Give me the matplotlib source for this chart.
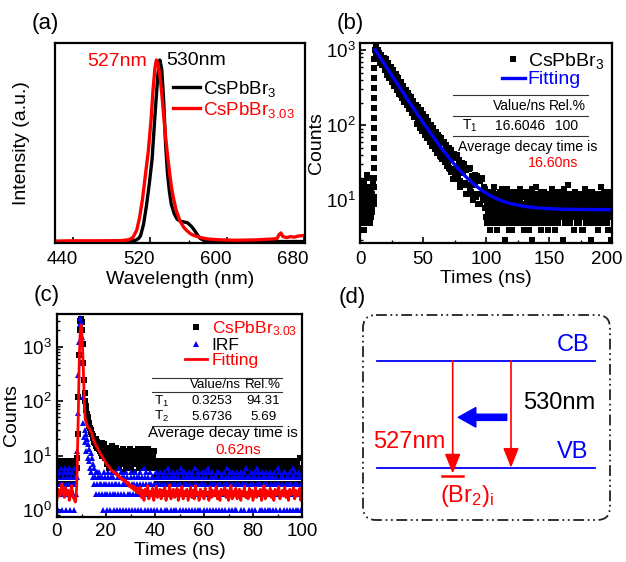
import numpy as np
import matplotlib
matplotlib.use("Agg")
import matplotlib.pyplot as plt
from matplotlib.patches import FancyBboxPatch
from matplotlib.transforms import ScaledTranslation

plt.rcParams['font.family'] = ['Liberation Sans', 'DejaVu Sans']
plt.rcParams['mathtext.fontset'] = 'custom'
plt.rcParams['mathtext.rm'] = 'Liberation Sans'
plt.rcParams['mathtext.it'] = 'Liberation Sans:italic'
plt.rcParams['mathtext.bf'] = 'Liberation Sans:bold'
plt.rcParams['axes.linewidth'] = 1.6
plt.rcParams['xtick.direction'] = 'in'
plt.rcParams['ytick.direction'] = 'in'
plt.rcParams['xtick.major.width'] = 1.2
plt.rcParams['ytick.major.width'] = 1.2
plt.rcParams['xtick.minor.width'] = 1.0
plt.rcParams['ytick.minor.width'] = 1.0
plt.rcParams['xtick.major.size'] = 4
plt.rcParams['ytick.major.size'] = 4
plt.rcParams['xtick.minor.size'] = 2.5
plt.rcParams['ytick.minor.size'] = 2.5

# ---------------- (a) PL spectra ----------------
wl_black = [421, 460, 490, 500, 505, 508, 510, 513, 516, 519, 522, 525, 528, 530, 532, 534, 536,
            538, 540, 542, 545, 548, 551, 555, 559, 563, 566, 569, 572, 576, 580, 600, 681]
pl_black = [0.008, 0.008, 0.009, 0.01, 0.015, 0.025, 0.04, 0.10, 0.20, 0.32, 0.46, 0.70, 0.92, 1.0,
            0.95, 0.78, 0.54, 0.38, 0.28, 0.21, 0.16, 0.13, 0.12, 0.115, 0.11, 0.09, 0.07, 0.045,
            0.025, 0.014, 0.01, 0.008, 0.008]
wl_red = [421, 440, 470, 490, 498, 502, 506, 509, 512, 515, 518, 521, 523, 525, 526.5, 528, 530,
          532, 534, 536, 538, 540, 542, 544, 547, 551, 555, 558, 562, 566, 572, 580, 590, 600, 610,
          620, 630, 640, 648, 652, 654, 656, 658, 662, 666, 670, 674, 678, 681]
pl_red = [0.01, 0.012, 0.012, 0.013, 0.018, 0.03, 0.07, 0.14, 0.24, 0.37, 0.50, 0.68, 0.84, 0.96,
          1.0, 0.98, 0.92, 0.82, 0.70, 0.58, 0.48, 0.39, 0.31, 0.25, 0.18, 0.12, 0.085, 0.068, 0.05,
          0.04, 0.03, 0.022, 0.018, 0.016, 0.015, 0.016, 0.017, 0.02, 0.022, 0.025, 0.045, 0.055,
          0.035, 0.03, 0.035, 0.032, 0.038, 0.04, 0.042]

# ---------------- (b) CsPbBr3 decay ----------------
b_pre_a = [9, 5, 14, 7, 11, 4, 18, 8, 6, 12, 9, 15, 5, 10, 7, 20, 6, 13, 8, 11, 16, 9]   # from 0.5 ns, 0.5 ns step
b_pre_b = [7, 12, 6, 16, 8, 10, 5, 13, 9, 7, 22, 6, 11, 8, 14, 5, 9, 12, 7, 17, 10]      # from 0.75 ns
b_rise = [11, 15, 20, 27, 36, 50, 68, 92, 125, 170, 230, 310, 420, 570, 770]            # at 11 ns
b_decay_a = [1008, 1081, 804, 901, 682, 837, 669, 783, 550, 613,                        # 12..99 ns
             556, 597, 444, 497, 377, 462, 370, 432, 304, 340,
             308, 330, 246, 276, 209, 257, 206, 241, 169, 189,
             172, 185, 138, 155, 117, 145, 115, 136, 95, 107,
             98, 105, 79, 88, 68, 82, 67, 78,
             62, 74, 45, 60, 38, 58, 44, 60, 36, 44,
             38, 49, 24, 40, 19, 39, 24, 40, 20, 28,
             24, 31, 16, 26, 12, 26, 16, 27, 13, 19,
             17, 22, 11, 18, 9, 18, 12, 20, 10, 14]
b_decay_b = [830, 920, 1014, 760, 847, 638, 786, 592, 655, 469,                         # 12.5..99.5 ns
             458, 508, 560, 419, 468, 352, 435, 327, 362, 260,
             253, 281, 310, 232, 260, 196, 241, 182, 202, 144,
             141, 158, 174, 130, 145, 111, 136, 103, 113, 81,
             81, 90, 99, 74, 84, 62, 78, 60,
             48, 58, 70, 44, 60, 36, 58, 36, 48, 30,
             27, 35, 46, 26, 38, 19, 39, 21, 31, 15,
             17, 23, 30, 17, 25, 12, 26, 14, 21, 10,
             12, 16, 21, 12, 18, 9, 19, 10, 15, 8]
b_decay_c = [763, 472, 678, 419, 602, 372, 535, 330, 475, 293,                          # 20.25..79.25 ns
             422, 261, 375, 232, 334, 206, 297, 184, 264, 164,
             235, 145, 209, 130, 187, 104, 177, 93, 158, 83,
             141, 74, 127, 67, 114, 59, 102, 53, 92, 48,
             81, 43, 73, 39, 67, 35, 60, 32, 55, 29,
             49, 26, 45, 24, 41, 22, 37, 20, 34, 18]
b_plateau_a = [8, 5, 11, 7, 13, 6, 9, 4, 10, 7, 12, 6, 8, 15, 5, 9, 7, 11, 4, 8, 10, 6, 13, 7, 9,   # from 100 ns, 0.5 ns step
               5, 12, 8, 6, 10, 3, 9, 7, 14, 6, 8, 11, 5, 9, 7, 12, 4, 10, 8, 6, 13, 7, 9, 5, 11,
               7, 10, 6, 8, 14, 5, 9, 7, 12, 6, 8, 4, 11, 9, 7, 13, 5, 10, 8, 6, 12, 7, 9, 3, 11,
               8, 6, 10, 7, 15, 5, 9, 8, 12, 6, 7, 10, 4, 9, 11, 6, 8, 13, 7, 5, 10, 8, 12, 6, 9,
               7, 11, 5, 8, 14, 6, 9, 7, 10, 4, 12, 8, 6, 9, 11, 5, 7, 13, 8, 6, 10, 9, 3, 12, 7,
               8, 5, 11, 9, 6, 16, 7, 10, 8, 5, 12, 6, 9, 7, 11, 4, 8, 13, 6, 10, 7, 9, 5, 12, 8,
               6, 11, 7, 9, 4, 10, 8, 14, 6, 7, 12, 5, 9, 8, 11, 6, 10, 3, 7, 13, 8, 5, 9, 12, 6,
               10, 7, 8, 4, 11, 9, 6, 15, 7, 10, 5, 8, 12, 6, 9, 7, 11, 5, 13, 8, 6, 10, 9, 3, 7, 12]
b_plateau_b = [6, 9, 7, 12, 5, 10, 8, 6, 11, 7, 9, 13, 6, 8, 5, 10, 7, 12, 9, 6,                   # from 100.25 ns
               8, 11, 5, 9, 7, 14, 6, 10, 8, 5, 12, 7, 9, 6, 11, 8, 4, 10, 7, 9,
               13, 6, 8, 10, 5, 9, 7, 12, 6, 8, 11, 7, 5, 10, 9, 6, 13, 8, 7, 11,
               5, 9, 6, 12, 8, 10, 7, 4, 9, 11, 6, 8, 14, 7, 10, 5, 9, 8, 12, 6,
               10, 7, 9, 5, 11, 8, 6, 13, 7, 9, 10, 5, 8, 12, 6, 9, 7, 11, 4, 8,
               10, 6, 12, 7, 9, 8, 5, 11, 7, 13, 6, 9, 8, 10, 5, 12, 7, 6, 9, 11,
               8, 6, 10, 7, 14, 5, 9, 8, 11, 6, 10, 7, 12, 5, 8, 9, 6, 11, 7, 10,
               13, 6, 8, 9, 5, 12, 7, 10, 8, 6, 11, 9, 4, 8, 12, 7, 10, 6, 9, 5,
               11, 8, 7, 13, 6, 9, 10, 5, 8, 12, 7, 9, 6, 11, 8, 10, 5, 9, 7, 12,
               6, 10, 8, 7, 11, 5, 9, 13, 6, 8, 10, 7, 9, 4, 12, 8, 6, 11, 7, 9]
b_fit_t = [12, 14, 16, 18, 20, 22, 24, 26, 28, 30, 32, 34, 36, 38, 40, 42, 44, 46, 48, 50, 52, 54,
           56, 58, 60, 62, 64, 66, 68, 70, 72, 74, 76, 78, 80, 82, 84, 86, 88, 90, 92, 94, 96, 98,
           100, 104, 108, 112, 116, 120, 130, 140, 150, 160, 175, 200]
b_fit = [1007, 894, 794, 704, 626, 556, 494, 438, 390, 346, 308, 274, 244, 216, 193, 172, 154, 136,
         122, 108, 98, 88, 78, 70, 63, 56.7, 51.1, 46.2, 41.8, 37.9, 34.4, 31.4, 28.7, 26.3, 24.1,
         22.2, 20.6, 19.1, 17.8, 16.6, 15.6, 14.7, 13.8, 13.1, 12.5, 11.4, 10.6, 9.9, 9.4, 9.0,
         8.3, 7.95, 7.75, 7.6, 7.55, 7.5]

# ---------------- (c) CsPbBr3.03 decay ----------------
c_sample_pre = "57463852746538472645837265473856"      # 0..7.75 ns, 0.25 ns step
c_sample_peak = [6, 9, 25, 120, 700, 2000, 3000, 3200, 2800, 2000,   # 8.0..19.75 ns
                 1100, 500, 240, 140, 100, 80, 68, 58, 50, 44,
                 40, 35, 32, 29, 27, 25, 23, 21, 20, 18,
                 17, 20, 15, 18, 14, 17, 13, 16, 12, 15,
                 11, 17, 10, 14, 12, 16, 9, 13]
c_sample_tail = ("a7c8e6b9d7fa8c6b9e7a"                   # from 20 ns, 0.25 ns step (hex counts)
                 "8b6a9c7d5a8b6c9a7b8d6a9c7b5a"
                 "9c7a8d6b9c8a7d9b6c8a9d7b8c6a9b7c"
                 "46273538462537485362" "74635827436538472635" "48372635482736354826"
                 "73458372635485726354" "75826354738263547286" "63547286635472638354"
                 "72648354726583547263" "85347265835472635834" "72635834726558347263"
                 "58347263584372635843" "72635843726558437263" "58437263584372635943")
c_irf_pre = "31425362143526314253621435261432"         # 0..7.75 ns
c_irf_peak = [4, 12, 60, 300, 1200, 2600, 3300, 2800, 1500, 500,     # 8.0..17.75 ns
              120, 40, 22, 30, 18, 25, 12, 20, 9, 16,
              8, 13, 6, 11, 5, 9, 4, 7, 3, 6,
              4, 5, 2, 5, 3, 4, 2, 5, 3, 4]
c_irf_tail = ("32413524312453214352" "41325314236152431423" "51342132451324315243"   # from 18 ns
              "21435142326143521432" "53142431253412435214" "32541324163542132451"
              "34215342136254132541" "23451324514326143251" "43125342153241562314"
              "25314231452315342142" "35214362145321435241" "13524342513421536243"
              "24135241352143625341" "32514231425341215342" "41352143625314232451"
              "52341423153426143521" "34152431425136241352")
c_fit_pre = [1.6, 2.4, 1.8, 2.0, 3.0, 2.2, 1.7, 2.6, 1.9, 2.3, 1.5, 2.1, 2.8, 1.7, 1.6, 1.4]   # 0..7.5, 0.5 step
c_fit_peak = [1.8, 2.5, 6, 20, 80, 350, 1000, 2000, 2500, 2300,      # 7.75..16.0, 0.25 step
              1500, 800, 380, 150, 70, 48, 42, 40, 36, 34,
              33, 32, 31, 30, 28, 27, 25, 22, 20, 19,
              18, 17, 16, 15]
c_fit_tail = [14, 12.5, 11.5, 10.2, 9.5, 8.6, 8.0, 7.2, 6.8, 6.2, 6.0, 5.4, 5.3, 4.9, 5.0, 4.6,   # from 16.5, 0.5 step
              4.3, 4.4, 3.9, 4.0, 3.6, 3.7, 3.3, 3.5, 3.0, 3.2, 2.7, 2.9, 2.5, 2.8, 2.3, 2.6, 2.1, 2.5,
              2.0, 2.6, 1.7, 2.3, 1.5, 2.4, 1.9, 2.8, 1.6, 2.2, 1.8, 2.5, 1.5, 2.1, 2.7, 1.7, 2.0, 2.4, 1.6, 2.3,
              1.9, 2.6, 1.5, 2.2, 1.8, 2.9, 1.6, 2.1, 2.4, 1.7, 2.0, 2.5, 1.5, 2.3, 1.8, 2.7, 1.6, 2.2, 1.9, 2.4,
              1.5, 2.0, 2.6, 1.7, 2.3, 1.6, 2.8, 1.9, 2.1, 1.5, 2.4, 1.8, 2.2, 1.6, 2.5, 1.9, 2.0, 1.5, 2.6, 1.7,
              2.3, 1.8, 2.1, 2.7, 1.6, 2.2, 1.5, 2.4, 1.9, 2.0, 2.6, 1.7, 2.3, 1.5, 2.1, 2.8, 1.6, 2.2, 1.8, 2.5,
              1.6, 2.0, 2.4, 1.5, 2.2, 1.9, 2.7, 1.7, 2.1, 1.6, 2.5, 1.8, 2.3, 1.5, 2.0, 2.6, 1.7, 2.2, 1.9, 2.4,
              1.5, 2.1, 2.8, 1.6, 2.3, 1.8, 2.0, 2.5, 1.7, 2.2, 1.5, 2.4, 1.9, 2.1, 2.7, 1.6, 2.0, 2.3, 1.8, 2.6,
              1.7, 2.2, 1.5, 2.4, 1.9, 2.0, 2.6, 1.6, 2.3, 1.8, 2.1, 2.5, 1.5, 2.2, 1.9, 2.8, 1.6, 2.0, 2.4, 1.7]

W, H = 626, 562
BLUE = '#0000ff'
RED = '#ff0000'

def box(l, t, r, b):
    return [l / W, 1 - b / H, (r - l) / W, (b - t) / H]

fig = plt.figure(figsize=(W / 100, H / 100), dpi=100)

# background axes in pixel units: panel letters and scheme (d)
axd = fig.add_axes([0, 0, 1, 1], zorder=-1)
axd.set_xlim(0, W)
axd.set_ylim(H, 0)
axd.axis('off')
for lab, x, y in [('(a)', 45, 23), ('(b)', 350, 23), ('(c)', 47, 295), ('(d)', 352, 297)]:
    axd.text(x, y, lab, fontsize=16, ha='center', va='center')

# ---------------- (a) ----------------
ax = fig.add_axes(box(55, 43, 305, 243))
ax.plot(wl_black, pl_black, color='black', lw=2.4, label='CsPbBr$_3$')
ax.plot(wl_red, pl_red, color=RED, lw=2.4, label='CsPbBr$_{3.03}$')
ax.set_xlim(421, 681)
ax.set_ylim(0, 1.093)
ax.set_xticks([440, 520, 600, 680])
ax.set_xticks([480, 560, 640], minor=True)
ax.set_yticks([])
ax.tick_params(axis='x', labelsize=13.5, pad=6)
ax.set_xlabel('Wavelength (nm)', fontsize=14, labelpad=2)
ax.set_ylabel('Intensity (a.u.)', fontsize=14, labelpad=18)
ax.text(517, 0.99, '527nm', color=RED, fontsize=14, ha='right', va='center')
ax.text(536.5, 1.0, '530nm', color='black', fontsize=14, ha='left', va='center')
ax.legend(loc='upper left', bbox_to_anchor=(0.47, 0.82), frameon=False, fontsize=13.5,
          handlelength=1.45, handletextpad=0.2, labelspacing=0.05, borderpad=0,
          borderaxespad=0, labelcolor='linecolor')
shift = ScaledTranslation(-0.11, 0, fig.dpi_scale_trans)
for tick in ax.xaxis.get_major_ticks():
    tick.label1.set_transform(tick.label1.get_transform() + shift)

# ---------------- (b) ----------------
ax = fig.add_axes(box(360, 43, 612, 243))
t_b = np.concatenate([0.5 + 0.5 * np.arange(len(b_pre_a)), 0.75 + 0.5 * np.arange(len(b_pre_b)),
                      np.full(len(b_rise), 11.0),
                      12 + np.arange(len(b_decay_a)), 12.5 + np.arange(len(b_decay_b)),
                      20.25 + np.arange(len(b_decay_c)),
                      100 + 0.5 * np.arange(len(b_plateau_a)), 100.25 + 0.5 * np.arange(len(b_plateau_b))])
n_b = np.concatenate([b_pre_a, b_pre_b, b_rise, b_decay_a, b_decay_b, b_decay_c, b_plateau_a, b_plateau_b])
ax.plot(t_b, n_b, 's', color='black', ms=4.1, mew=0, label='CsPbBr$_3$')
ax.plot(b_fit_t, b_fit, color=BLUE, lw=2.4, label='Fitting')
ax.set_yscale('log')
ax.set_xlim(0, 200)
ax.set_ylim(2.7, 1240)
ax.set_xticks(np.arange(0, 201, 50))
ax.set_xticks(np.arange(25, 200, 50), minor=True)
ax.tick_params(axis='x', labelsize=13.5, pad=6)
ax.tick_params(axis='y', labelsize=13.5, pad=3)
ax.set_xlabel('Times (ns)', fontsize=14, labelpad=1)
ax.set_ylabel('Counts', fontsize=14, labelpad=1)
ax.legend(loc='upper right', bbox_to_anchor=(1.0, 1.0), frameon=False, fontsize=14,
          handlelength=1.2, handletextpad=0.15, labelspacing=0.0, borderpad=0.3,
          borderaxespad=0.1, markerscale=1.2, labelcolor=['black', BLUE])
last = ax.xaxis.get_major_ticks()[-1].label1
last.set_transform(last.get_transform() + ScaledTranslation(-0.05, 0, fig.dpi_scale_trans))
for yy in [0.74, 0.635, 0.535]:
    ax.plot([0.369, 0.905], [yy, yy], transform=ax.transAxes, color='#333333', lw=0.8)
ax.text(0.631, 0.685, 'Value/ns', transform=ax.transAxes, fontsize=10, ha='center', va='center')
ax.text(0.823, 0.685, 'Rel.%', transform=ax.transAxes, fontsize=10, ha='center', va='center')
ax.text(0.437, 0.585, 'T$_1$', transform=ax.transAxes, fontsize=10, ha='center', va='center')
ax.text(0.635, 0.585, '16.6046', transform=ax.transAxes, fontsize=10, ha='center', va='center')
ax.text(0.82, 0.585, '100', transform=ax.transAxes, fontsize=10, ha='center', va='center')
ax.text(0.667, 0.48, 'Average decay time is', transform=ax.transAxes, fontsize=10.2,
        ha='center', va='center')
ax.text(0.766, 0.40, '16.60ns', transform=ax.transAxes, fontsize=10.2, color=RED,
        ha='center', va='center')

# ---------------- (c) ----------------
ax = fig.add_axes(box(57, 314, 302, 517))
s_tail = [int(ch, 16) for ch in c_sample_tail]
i_tail = [int(ch) for ch in c_irf_tail]
t_s = np.concatenate([0.25 * np.arange(len(c_sample_pre)), 8.0 + 0.25 * np.arange(len(c_sample_peak)),
                      20.0 + 0.25 * np.arange(len(s_tail))])
n_s = np.concatenate([[int(ch) for ch in c_sample_pre], c_sample_peak, s_tail])
t_i = np.concatenate([0.25 * np.arange(len(c_irf_pre)), 8.0 + 0.25 * np.arange(len(c_irf_peak)),
                      18.0 + 0.25 * np.arange(len(i_tail))])
n_i = np.concatenate([[int(ch) for ch in c_irf_pre], c_irf_peak, i_tail])
t_f = np.concatenate([0.5 * np.arange(len(c_fit_pre)), 7.75 + 0.25 * np.arange(len(c_fit_peak)),
                      16.5 + 0.5 * np.arange(len(c_fit_tail))])
n_f = np.concatenate([c_fit_pre, c_fit_peak, c_fit_tail])
ax.plot(t_s, n_s, 's', color='black', ms=4.8, mew=0, label='CsPbBr$_{3.03}$')
ax.plot(t_i, n_i, '^', color=BLUE, ms=4.0, mew=0, label='IRF')
ax.plot(t_f, n_f, '-', color=RED, lw=2.0, label='Fitting')
ax.set_yscale('log')
ax.set_xlim(0, 100)
ax.set_ylim(0.744, 3950)
ax.set_xticks(np.arange(0, 101, 20))
ax.set_xticks(np.arange(10, 100, 20), minor=True)
ax.tick_params(axis='x', labelsize=13.5, pad=4)
ax.tick_params(axis='y', labelsize=13.5, pad=4)
ax.set_xlabel('Times (ns)', fontsize=14, labelpad=2)
ax.set_ylabel('Counts', fontsize=14, labelpad=1)
ax.legend(loc='upper right', bbox_to_anchor=(1.0, 1.0), frameon=False, fontsize=12.5,
          handlelength=1.3, handletextpad=0.25, labelspacing=0.0, borderpad=0.2,
          borderaxespad=0.1, numpoints=1, labelcolor=[RED, 'black', RED])
for yy in [0.686, 0.617, 0.449]:
    ax.plot([0.388, 0.918], [yy, yy], transform=ax.transAxes, color='#333333', lw=0.8)
ax.text(0.645, 0.65, 'Value/ns', transform=ax.transAxes, fontsize=9.6, ha='center', va='center')
ax.text(0.841, 0.65, 'Rel.%', transform=ax.transAxes, fontsize=9.6, ha='center', va='center')
ax.text(0.427, 0.57, 'T$_1$', transform=ax.transAxes, fontsize=9.6, ha='center', va='center')
ax.text(0.631, 0.57, '0.3253', transform=ax.transAxes, fontsize=9.6, ha='center', va='center')
ax.text(0.842, 0.57, '94.31', transform=ax.transAxes, fontsize=9.6, ha='center', va='center')
ax.text(0.427, 0.494, 'T$_2$', transform=ax.transAxes, fontsize=9.6, ha='center', va='center')
ax.text(0.631, 0.494, '5.6736', transform=ax.transAxes, fontsize=9.6, ha='center', va='center')
ax.text(0.842, 0.494, '5.69', transform=ax.transAxes, fontsize=9.6, ha='center', va='center')
ax.text(0.676, 0.413, 'Average decay time is', transform=ax.transAxes, fontsize=11,
        ha='center', va='center')
ax.text(0.739, 0.33, '0.62ns', transform=ax.transAxes, fontsize=11, color=RED,
        ha='center', va='center')

# ---------------- (d) energy level scheme ----------------
cb_y, vb_y = 360.7, 467.7
lev_x = [377, 595]
axd.add_patch(FancyBboxPatch((363, 315), 247, 205, boxstyle='round,pad=0,rounding_size=13',
                             fill=False, ec='#222222', lw=1.3, ls=(0, (6, 2, 1, 2, 1, 2))))
axd.plot(lev_x, [cb_y, cb_y], color=BLUE, lw=1.3)
axd.plot(lev_x, [vb_y, vb_y], color=BLUE, lw=1.3)
red_head = dict(arrowstyle='-|>,head_length=1.0,head_width=0.4', color=RED, lw=1.2,
                mutation_scale=12, shrinkA=0, shrinkB=0)
axd.annotate('', xy=(452.7, 473.5), xytext=(452.7, cb_y), arrowprops=red_head)
axd.annotate('', xy=(511, vb_y), xytext=(511, cb_y), arrowprops=red_head)
axd.plot([441.7, 463.3], [475.5, 475.5], color=RED, lw=1.8)
axd.annotate('', xy=(458.3, 417.3), xytext=(506.7, 417.3),
             arrowprops=dict(arrowstyle='simple,head_length=0.9,head_width=1.0,tail_width=0.32',
                             color=BLUE, mutation_scale=14, shrinkA=0, shrinkB=0))
axd.text(573, 345, 'CB', color=BLUE, fontsize=17, ha='center', va='center')
axd.text(573, 452, 'VB', color=BLUE, fontsize=17, ha='center', va='center')
axd.text(559, 403, '530nm', color='black', fontsize=17, ha='center', va='center')
axd.text(409, 442, '527nm', color=RED, fontsize=17, ha='center', va='center')
axd.text(466.7, 496, r'(Br$_2$)$_\mathrm{i}$', color=RED, fontsize=17, ha='center', va='center')

fig.savefig('out.png', dpi=100)
